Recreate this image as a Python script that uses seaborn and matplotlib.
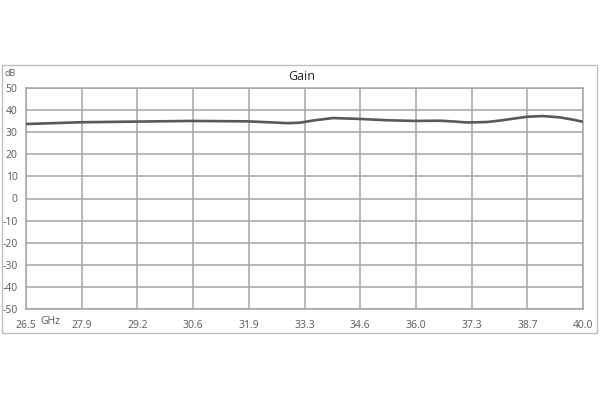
import matplotlib
matplotlib.use("Agg")
import matplotlib.pyplot as plt
import seaborn as sns
import pandas as pd
from matplotlib.patches import Rectangle

# Data
freq_ghz = [26.5, 27.83, 29.19, 30.52, 31.88, 32.5, 32.83, 33.14, 33.5, 33.94, 34.6, 35.25,
            35.93, 36.54, 36.9, 37.19, 37.67, 38.0, 38.3, 38.64, 39.03, 39.44, 39.75, 39.98]
gain_db = [33.7, 34.5, 34.8, 35.1, 34.9, 34.4, 34.1, 34.3, 35.4, 36.4, 36.0, 35.4,
           35.1, 35.2, 34.8, 34.4, 34.6, 35.3, 36.1, 37.0, 37.3, 36.7, 35.7, 34.8]
x_tick_labels = ["26.5", "27.9", "29.2", "30.6", "31.9", "33.3", "34.6",
                 "36.0", "37.3", "38.7", "40.0"]
y_ticks = [50, 40, 30, 20, 10, 0, -10, -20, -30, -40, -50]

df = pd.DataFrame({"freq": freq_ghz, "gain": gain_db})

sns.set_theme(style="white")
plt.rcParams["font.family"] = ["Open Sans", "DejaVu Sans"]

fig = plt.figure(figsize=(6, 4), dpi=100)
fig.patch.set_facecolor("white")
ax = fig.add_axes([26 / 600, 1 - 309 / 400, 557 / 600, 221 / 400])

grid_c = "#A6A6A6"
text_c = "#595959"

sns.lineplot(data=df, x="freq", y="gain", ax=ax, color="#595959",
             linewidth=1.9, zorder=3)
ax.lines[0].set_solid_joinstyle("round")

x0, x1 = 26.5, 40.0
step = (x1 - x0) / 10
ax.set_xlim(x0, x1)
ax.set_ylim(-50, 50)
ax.set_xticks([x0 + i * step for i in range(11)])
ax.set_xticklabels(x_tick_labels)
ax.set_yticks(y_ticks)
ax.set_yticklabels([str(v) for v in y_ticks])
ax.grid(True, color=grid_c, linewidth=1.1)
ax.set_axisbelow(True)
for s in ax.spines.values():
    s.set_color(grid_c)
    s.set_linewidth(1.1)
ax.tick_params(axis="both", length=0, labelsize=7.5, colors=text_c)
ax.tick_params(axis="x", pad=8)
ax.tick_params(axis="y", pad=6)
ax.set_xlabel("")
ax.set_ylabel("")

fig.text(302 / 600, 1 - 77 / 400, "Gain", ha="center", va="center",
         fontsize=9, color="#262626")
fig.text(10 / 600, 1 - 74 / 400, "dB", ha="center", va="center",
         fontsize=6.5, color=text_c)
fig.text(50 / 600, 1 - 322 / 400, "GHz", ha="center", va="center",
         fontsize=7.5, color=text_c)

fig.patches.append(Rectangle((2 / 600, 1 - 333 / 400), 595 / 600, 268 / 400,
                             transform=fig.transFigure, fill=False,
                             edgecolor="#BFBFBF", linewidth=1.0))

fig.savefig("out.png", dpi=100, facecolor="white")
